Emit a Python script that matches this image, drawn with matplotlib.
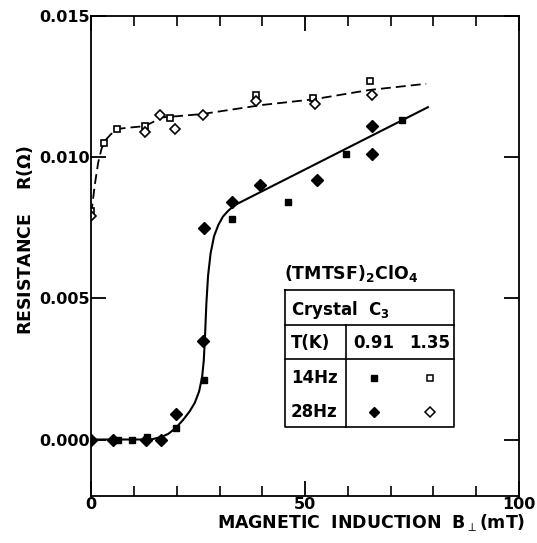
import matplotlib.pyplot as plt
import numpy as np

# 0.91 K, 14 Hz (filled squares)
sq_f_x = [6.3, 9.6, 13.1, 19.7, 26.4, 32.8, 46.0, 59.5, 72.6]
sq_f_y = [0.0000, 0.0000, 0.0001, 0.0004, 0.0021, 0.0078, 0.0084, 0.0101, 0.0113]

# 0.91 K, 28 Hz (filled diamonds)
di_f_x = [0.0, 5.1, 12.7, 16.2, 19.7, 26.1, 26.4, 32.8, 39.4, 52.8, 65.7, 65.7]
di_f_y = [0.0000, 0.0000, 0.0000, 0.0000, 0.0009, 0.0035, 0.0075, 0.0084, 0.0090, 0.0092, 0.0101, 0.0111]

# 1.35 K, 14 Hz (open squares)
sq_o_x = [0.0, 2.9, 6.0, 12.5, 18.5, 38.6, 51.8, 65.1]
sq_o_y = [0.0081, 0.0105, 0.0110, 0.0111, 0.0114, 0.0122, 0.0121, 0.0127]

# 1.35 K, 28 Hz (open diamonds)
di_o_x = [0.0, 12.5, 16.0, 19.5, 26.1, 38.6, 52.2, 65.6]
di_o_y = [0.0079, 0.0109, 0.0115, 0.0110, 0.0115, 0.0120, 0.0119, 0.0122]

# hand-drawn guide curves
fit_lo_x = [0, 14, 16.5, 18, 19.7, 21.5, 23, 24.2, 25.2, 25.9, 26.3, 26.6, 26.9,
            27.3, 27.9, 28.7, 29.7, 30.8, 32.0, 33.5, 78.7]
fit_lo_y = [0.0, 0.0, 0.0001, 0.0002, 0.0004, 0.0007, 0.0010, 0.0013, 0.0017,
            0.0022, 0.0028, 0.0037, 0.0048, 0.0058, 0.0066, 0.0072, 0.0076,
            0.0079, 0.0081, 0.0083, 0.01177]
fit_hi_x = [0, 0.8, 1.6, 2.4, 3.3, 4.5, 6.0, 9, 12.5, 14.5, 16, 18, 20, 26, 40, 52, 65, 78.3]
fit_hi_y = [0.0080, 0.0090, 0.0098, 0.0103, 0.0106, 0.0108, 0.0110, 0.01105,
            0.0111, 0.01125, 0.0114, 0.01143, 0.01145, 0.01153, 0.01185,
            0.01205, 0.01238, 0.0126]

plt.rcParams['font.family'] = 'DejaVu Sans'
plt.rcParams['mathtext.fontset'] = 'dejavusans'
plt.rcParams['mathtext.default'] = 'regular'
BOLD = 'bold'

fig = plt.figure(figsize=(5.37, 5.43), dpi=100)
ax = fig.add_axes([0.170, 0.0866, 0.7965, 0.8839])

ax.plot(fit_lo_x, fit_lo_y, '-', color='black', lw=1.5)
ax.plot(fit_hi_x, fit_hi_y, color='black', lw=1.3, dashes=(5.5, 2.8))

ax.plot(sq_f_x, sq_f_y, 's', color='black', ms=5, ls='none')
ax.plot(di_f_x, di_f_y, 'D', color='black', ms=5.8, ls='none')
ax.plot(sq_o_x, sq_o_y, 's', mfc='white', mec='black', mew=1.2, ms=5, ls='none')
ax.plot(di_o_x, di_o_y, 'D', mfc='white', mec='black', mew=1.2, ms=5.5, ls='none')

ax.set_xlim(0, 100)
ax.set_ylim(-0.002, 0.015)
ax.set_xticks([0, 50, 100])
ax.set_xticks(np.arange(0, 101, 10), minor=True)
ax.set_yticks([0.000, 0.005, 0.010, 0.015])
ax.set_yticklabels(['0.000', '0.005', '0.010', '0.015'])
ax.tick_params(axis='both', which='major', direction='in', length=11, width=1.3,
               labelsize=11.5, top=True, right=True)
ax.tick_params(axis='x', which='minor', direction='in', length=7, width=1.2, top=True)
ax.tick_params(axis='x', which='major', pad=1)
ax.tick_params(axis='y', which='major', pad=1)
for lab in ax.get_xticklabels() + ax.get_yticklabels():
    lab.set_fontweight(BOLD)
for s in ax.spines.values():
    s.set_linewidth(1.3)

# the perp sign is missing from the bold face, so this label is set in math mode
ax.text(0.654, -0.055, r'$\mathbf{MAGNETIC\ \ INDUCTION\ \ B}_{\perp}\mathbf{(mT)}$',
        transform=ax.transAxes, ha='center', va='center', fontsize=12.5)
ax.text(-0.156, 0.533, r'RESISTANCE    R($\Omega$)', transform=ax.transAxes,
        ha='center', va='center', rotation=90, fontsize=12.5, fontweight=BOLD)

# legend table
bx0, bx1, bdiv = 45.4, 84.7, 59.6
by_top, by_r1, by_r2, by_bot = 0.00530, 0.00406, 0.00284, 0.00044
ax.text(bx0 - 0.3, 0.00569, r'(TMTSF)$_2$ClO$_4$', fontsize=12.5, ha='left', va='baseline',
        fontweight=BOLD)
ax.plot([bx0, bx1, bx1, bx0, bx0], [by_top, by_top, by_bot, by_bot, by_top], color='black', lw=1.2)
ax.plot([bx0, bx1], [by_r1, by_r1], color='black', lw=1.2)
ax.plot([bx0, bx1], [by_r2, by_r2], color='black', lw=1.2)
ax.plot([bdiv, bdiv], [by_r1, by_bot], color='black', lw=1.2)
ax.text(bx0 + 1.3, 0.00459, r'Crystal  C$_3$', fontsize=12, ha='left', va='center', fontweight=BOLD)
ax.text(bx0 + 1.3, 0.00343, 'T(K)', fontsize=12, ha='left', va='center', fontweight=BOLD)
ax.text(66.0, 0.00343, '0.91', fontsize=12, ha='center', va='center', fontweight=BOLD)
ax.text(79.1, 0.00343, '1.35', fontsize=12, ha='center', va='center', fontweight=BOLD)
ax.text(bx0 + 1.3, 0.00218, '14Hz', fontsize=12, ha='left', va='center', fontweight=BOLD)
ax.text(bx0 + 1.3, 0.00097, '28Hz', fontsize=12, ha='left', va='center', fontweight=BOLD)
ax.plot([66.0], [0.00218], 's', color='black', ms=4.3)
ax.plot([79.1], [0.00218], 's', mfc='white', mec='black', mew=1.1, ms=4.3)
ax.plot([66.0], [0.00097], 'D', color='black', ms=5.2)
ax.plot([79.1], [0.00097], 'D', mfc='white', mec='black', mew=1.1, ms=5.2)

fig.savefig('out.png', dpi=100)
